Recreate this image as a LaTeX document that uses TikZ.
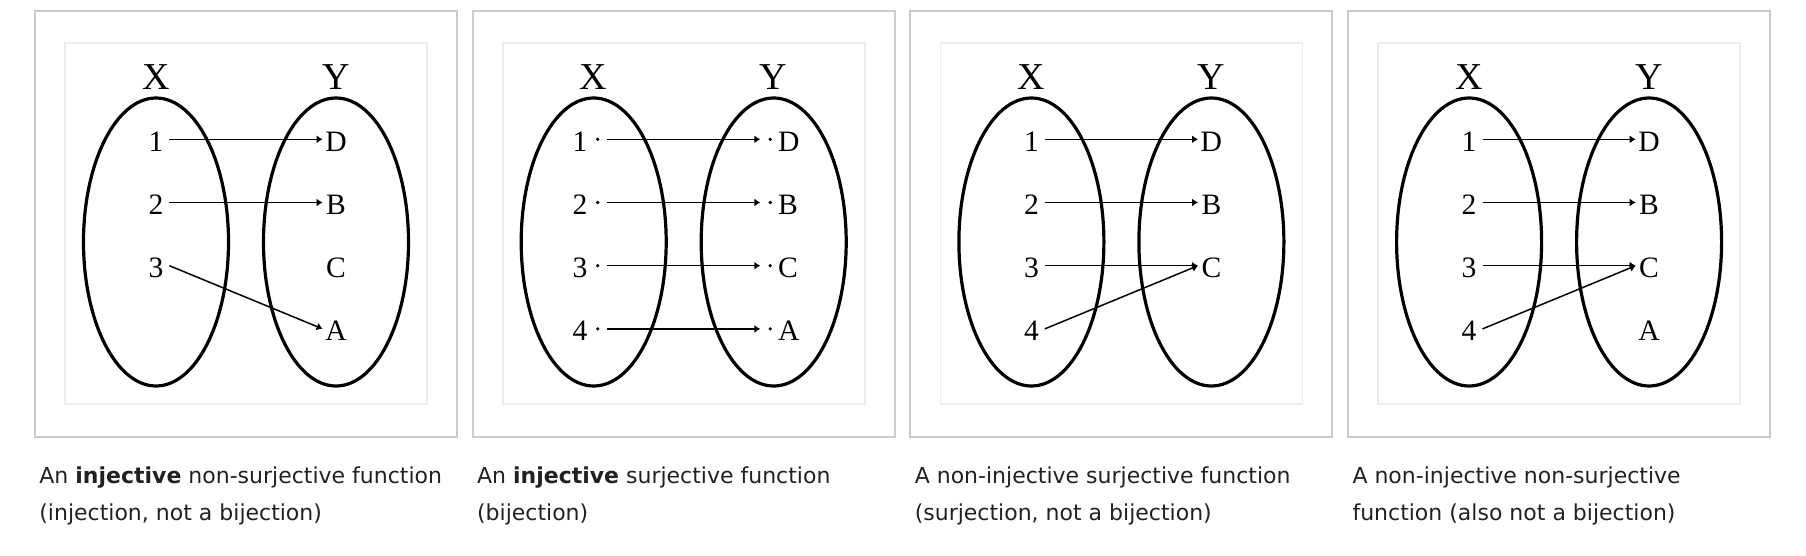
\documentclass[tikz,border=0pt]{standalone}
\usepackage{fontspec}
\setmainfont{Liberation Serif}
\newfontfamily\capfont{DejaVu Sans}
\usetikzlibrary{arrows.meta}
\definecolor{framegray}{HTML}{C8CCD1}
\definecolor{innergray}{HTML}{EAECF0}
\definecolor{captext}{HTML}{202122}
\tikzset{
  setoval/.style={line width=1.6pt},
  setname/.style={font=\fontsize{19}{20}\selectfont},
  elt/.style={inner sep=0pt, minimum width=13pt, text height=12pt, text depth=0pt,
    font=\fontsize{14.8}{16}\selectfont},
  dotelt/.style={circle, fill, inner sep=0pt, minimum size=1.8pt},
  dotlbl/.style={inner sep=0pt, text height=12pt, text depth=0pt,
    font=\fontsize{14.8}{16}\selectfont},
  maparrow/.style={line width=0.75pt, -{Latex[length=3pt,width=4pt]}},
  dotarrow/.style={maparrow, shorten <=3.6pt, shorten >=3.85pt},
  caption/.style={anchor=base west, align=left, inner sep=0pt, text=captext,
    font=\capfont\fontsize{11}{18.5}\selectfont}
}

\begin{document}
\begin{tikzpicture}[x=0.5pt, y=-0.5pt]
    \useasboundingbox (0,0) rectangle (1806,556);

    % frames, sets and set names
    \foreach \px [count=\k] in {35,472.7,910.4,1348.1} {
        \draw[framegray, line width=1pt] (\px,11) rectangle ++(422,426);
        \draw[innergray, line width=0.85pt] (\px+30,43) rectangle ++(362,361);
        \draw[setoval] (\px+121,242) ellipse [x radius=72.5, y radius=144];
        \draw[setoval] (\px+301,242) ellipse [x radius=72.5, y radius=144];
        \node[setname] (X\k) at (\px+121,77.5) {X};
        \node[setname] (Y\k) at (\px+301,77.5) {Y};
    }

    % injection
    \begin{scope}[shift={(35,0)}]
        \node[elt] (i1) at (121,139.3) {1};
        \node[elt] (i2) at (121,202.5) {2};
        \node[elt] (i3) at (121,265.7) {3};
        \node[elt] (iD) at (301,139.3) {D};
        \node[elt] (iB) at (301,202.5) {B};
        \node[elt] (iC) at (301,265.7) {C};
        \node[elt] (iA) at (301,328.9) {A};
        \draw[maparrow] (i1.east) -- (iD.west);
        \draw[maparrow] (i2.east) -- (iB.west);
        \draw[maparrow] (i3.east) -- (iA.west);
        \node[caption] (icap) at (4,520) {An \textbf{injective} non-surjective function\\(injection, not a bijection)};
    \end{scope}

    % bijection
    \begin{scope}[shift={(472.7,0)}]
        \node[dotelt, label={[dotlbl, label distance=3.8pt]left:1}] (b1) at (125,139.3) {};
        \node[dotelt, label={[dotlbl, label distance=3.8pt]left:2}] (b2) at (125,202.5) {};
        \node[dotelt, label={[dotlbl, label distance=3.8pt]left:3}] (b3) at (125,265.7) {};
        \node[dotelt, label={[dotlbl, label distance=3.8pt]left:4}] (b4) at (125,328.9) {};
        \node[dotelt, label={[dotlbl, label distance=2.7pt]right:D}] (bD) at (297.5,139.3) {};
        \node[dotelt, label={[dotlbl, label distance=2.7pt]right:B}] (bB) at (297.5,202.5) {};
        \node[dotelt, label={[dotlbl, label distance=2.7pt]right:C}] (bC) at (297.5,265.7) {};
        \node[dotelt, label={[dotlbl, label distance=2.7pt]right:A}] (bA) at (297.5,328.9) {};
        \draw[dotarrow] (b1) -- (bD);
        \draw[dotarrow] (b2) -- (bB);
        \draw[dotarrow] (b3) -- (bC);
        \draw[dotarrow] (b4) -- (bA);
        \node[caption] (bcap) at (4,520) {An \textbf{injective} surjective function\\(bijection)};
    \end{scope}

    % surjection
    \begin{scope}[shift={(910.4,0)}]
        \node[elt] (s1) at (121,139.3) {1};
        \node[elt] (s2) at (121,202.5) {2};
        \node[elt] (s3) at (121,265.7) {3};
        \node[elt] (s4) at (121,328.9) {4};
        \node[elt] (sD) at (301,139.3) {D};
        \node[elt] (sB) at (301,202.5) {B};
        \node[elt] (sC) at (301,265.7) {C};
        \draw[maparrow] (s1.east) -- (sD.west);
        \draw[maparrow] (s2.east) -- (sB.west);
        \draw[maparrow] (s3.east) -- (sC.west);
        \draw[maparrow] (s4.east) -- (sC.west);
        \node[caption] (scap) at (4,520) {A non-injective surjective function\\(surjection, not a bijection)};
    \end{scope}

    % neither
    \begin{scope}[shift={(1348.1,0)}]
        \node[elt] (n1) at (121,139.3) {1};
        \node[elt] (n2) at (121,202.5) {2};
        \node[elt] (n3) at (121,265.7) {3};
        \node[elt] (n4) at (121,328.9) {4};
        \node[elt] (nD) at (301,139.3) {D};
        \node[elt] (nB) at (301,202.5) {B};
        \node[elt] (nC) at (301,265.7) {C};
        \node[elt] (nA) at (301,328.9) {A};
        \draw[maparrow] (n1.east) -- (nD.west);
        \draw[maparrow] (n2.east) -- (nB.west);
        \draw[maparrow] (n3.east) -- (nC.west);
        \draw[maparrow] (n4.east) -- (nC.west);
        \node[caption] (ncap) at (4,520) {A non-injective non-surjective\\function (also not a bijection)};
    \end{scope}
\end{tikzpicture}
\end{document}
